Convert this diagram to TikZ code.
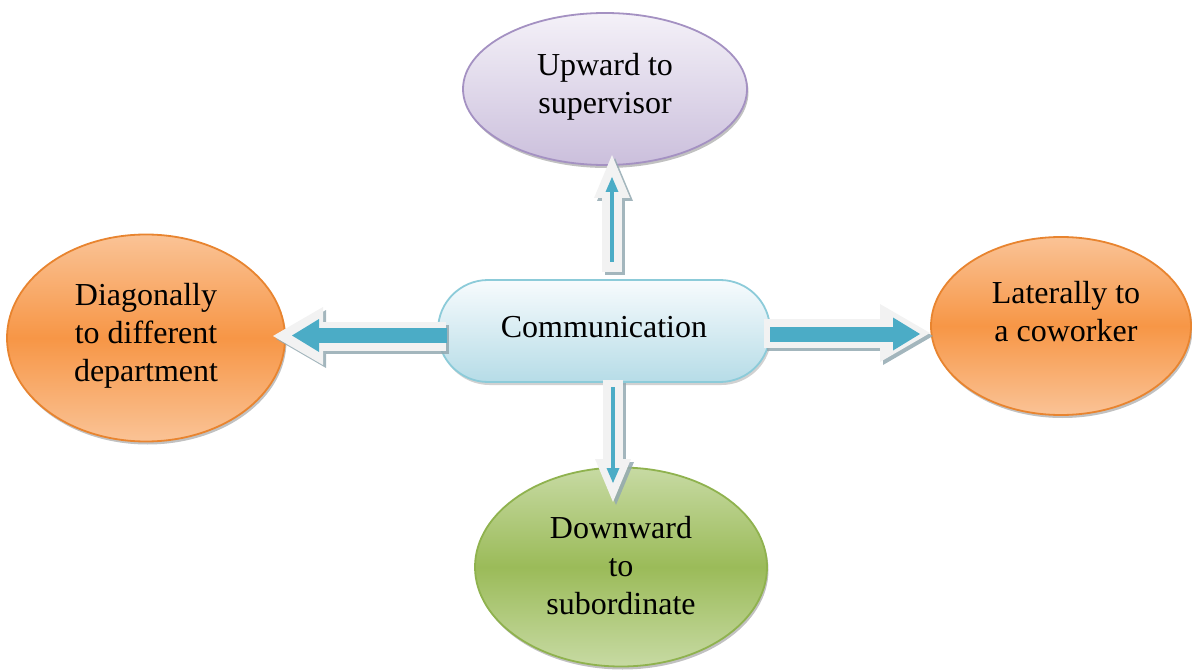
\documentclass[tikz,border=0pt]{standalone}
\usepackage{fontspec}
\setmainfont{Liberation Serif}
\usetikzlibrary{arrows.meta,shapes.geometric,shadows}
\definecolor{purTop}{HTML}{F4F1F8}
\definecolor{purBot}{HTML}{CBBFDC}
\definecolor{purLine}{HTML}{A491C2}
\definecolor{orLight}{HTML}{FAC396}
\definecolor{orMid}{HTML}{F79646}
\definecolor{orLine}{HTML}{E8842F}
\definecolor{grLight}{HTML}{C7DAA3}
\definecolor{grMid}{HTML}{9BBB59}
\definecolor{grLine}{HTML}{8FB24E}
\definecolor{cTop}{HTML}{F7FBFD}
\definecolor{cBot}{HTML}{B6DCE7}
\definecolor{cLine}{HTML}{8CCBD9}
\definecolor{arBlue}{HTML}{4BACC6}
\definecolor{arWhite}{HTML}{F2F2F2}
\definecolor{arShadow}{HTML}{93A9B1}
\begin{document}
\begin{tikzpicture}[x=1pt,y=-1pt,
  bubble/.style={ellipse,inner sep=0pt,line width=1.8pt,
    drop shadow={shadow xshift=1.5pt,shadow yshift=-3pt,opacity=.35,fill=black!70}},
  purbubble/.style={bubble,draw=purLine,top color=purTop,bottom color=purBot},
  orbubble/.style={bubble,draw=orLine,top color=orLight,bottom color=orLight,middle color=orMid},
  grbubble/.style={bubble,draw=grLine,top color=grLight,bottom color=grLight,middle color=grMid},
  label/.style={align=center,font=\fontsize{32}{38}\selectfont,inner sep=0pt},
  wideout/.style={line width=29pt,arWhite,-{Triangle[length=50pt,width=58pt,line width=0pt]}},
  widein/.style={line width=15pt,arBlue,-{Triangle[length=27pt,width=33pt,line width=0pt]}},
  thinout/.style={line width=20pt,arWhite,-{Triangle[length=43pt,width=36pt,line width=0pt]}},
  thinin/.style={line width=4pt,arBlue,-{Triangle[length=15pt,width=13pt,line width=0pt]}},
  shade/.style={arShadow,opacity=.85,transform canvas={xshift=3pt,yshift=-3pt}}
]
\useasboundingbox (0,0) rectangle (1192,671);

% nodes
\node[purbubble,minimum width=284pt,minimum height=152pt] (up) at (605,89) {};
\node[orbubble,minimum width=278pt,minimum height=207pt] (left) at (146,338) {};
\node[orbubble,minimum width=260pt,minimum height=178pt] (right) at (1061,326) {};
\node[grbubble,minimum width=292pt,minimum height=199pt] (down) at (621,567) {};
\node[rectangle,rounded corners=50pt,minimum width=332pt,minimum height=102pt,
  line width=1.8pt,draw=cLine,top color=cTop,bottom color=cBot,
  drop shadow={shadow xshift=1.5pt,shadow yshift=-3pt,opacity=.3,fill=black!60}] (comm) at (604,331) {};

\node[label] (upT) at (605,87) {Upward to\\supervisor};
\node[label] (leftT) at (146,336) {Diagonally\\to different\\department};
\node[label] (rightT) at (1066,312) {Laterally to\\a coworker};
\node[label] (downT) at (621,566) {Downward\\to\\subordinate};
\node[label] (commT) at (604,327) {Communication};

% connector end points
\coordinate (rS) at (764,333);
\coordinate (rE) at (930,333);
\coordinate (riS) at (770,334);
\coordinate (riE) at (920,334);
\coordinate (lS) at (446,336);
\coordinate (lE) at (273,336);
\coordinate (liS) at (447,335.5);
\coordinate (liE) at (292,335.5);
\coordinate (uS) at (612,272);
\coordinate (uE) at (612,155);
\coordinate (uiS) at (612,262);
\coordinate (uiE) at (612,177);
\coordinate (dS) at (613,380);
\coordinate (dE) at (613,502);
\coordinate (diS) at (613,387);
\coordinate (diE) at (613,483);

% connectors
\draw[wideout,shade] (rS) -- (rE);
\draw[wideout] (rS) -- (rE);
\draw[widein] (riS) -- (riE);

\draw[wideout,shade] (lS) -- (lE);
\draw[wideout] (lS) -- (lE);
\draw[widein] (liS) -- (liE);

\draw[thinout,shade] (uS) -- (uE);
\draw[thinout] (uS) -- (uE);
\draw[thinin] (uiS) -- (uiE);

\draw[thinout,shade] (dS) -- (dE);
\draw[thinout] (dS) -- (dE);
\draw[thinin] (diS) -- (diE);
\end{tikzpicture}
\end{document}
